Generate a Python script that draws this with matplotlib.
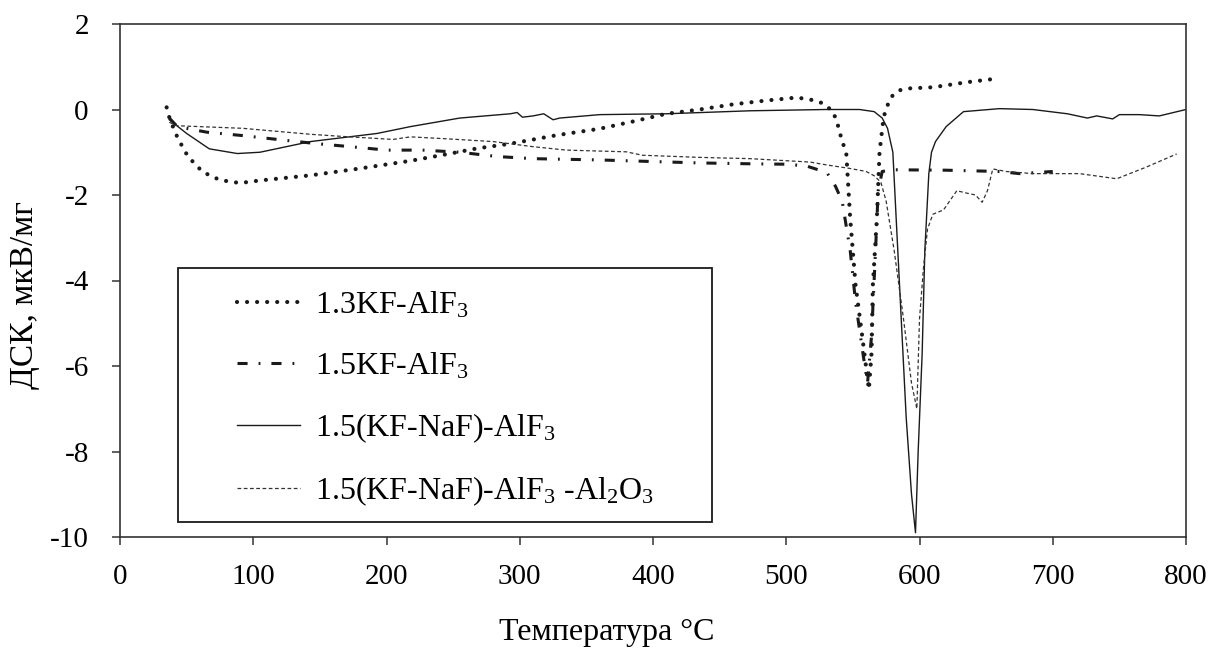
import matplotlib
matplotlib.use("Agg")
import matplotlib.pyplot as plt
from matplotlib.patches import Rectangle

plt.rcParams["font.family"] = ["Liberation Serif", "DejaVu Serif"]
plt.rcParams["mathtext.fontset"] = "custom"
plt.rcParams["mathtext.rm"] = "Liberation Serif"
plt.rcParams["mathtext.it"] = "Liberation Serif:italic"
plt.rcParams["axes.unicode_minus"] = False

# 1.3KF-AlF3 (dotted)
t_13kf = [35, 37.5, 43.5, 51, 62, 75, 90, 105, 143, 180, 218, 248, 268, 293, 328, 360,
          385, 410, 435, 460, 485, 508, 520, 528, 535, 538, 542, 545, 548, 552, 557, 562,
          564, 565, 568, 570, 573, 575, 579, 584, 590, 610, 636, 660]
dsc_13kf = [0.05, -0.24, -0.68, -1.1, -1.46, -1.65, -1.72, -1.66, -1.54, -1.38, -1.2, -1.03,
            -0.91, -0.8, -0.6, -0.45, -0.28, -0.1, 0.0, 0.12, 0.21, 0.28, 0.22, 0.14, -0.05,
            -0.28, -0.75, -1.0, -2.55, -4.1, -5.3, -6.55, -5.7, -4.1, -2.55, -1.0, -0.2, 0.03,
            0.3, 0.44, 0.49, 0.52, 0.64, 0.73]

# 1.5KF-AlF3 (dash-dot)
t_15kf = [37, 43, 65, 92, 118, 148, 173, 200, 227, 255, 283, 310, 360, 435, 473, 500, 515,
          525, 531, 537, 542, 548, 552, 558, 561, 564, 567, 569, 572, 580, 620, 660, 675, 700]
dsc_15kf = [-0.2, -0.4, -0.53, -0.61, -0.7, -0.8, -0.87, -0.95, -0.95, -1.0, -1.1, -1.15,
            -1.18, -1.25, -1.27, -1.28, -1.32, -1.42, -1.5, -1.8, -2.15, -3.3, -4.5, -5.8,
            -6.4, -5.3, -3.3, -1.9, -1.45, -1.41, -1.42, -1.45, -1.5, -1.45]

# 1.5(KF-NaF)-AlF3 (solid)
t_kfnaf = [37, 50, 67, 88, 105, 143, 193, 218, 255, 293, 298, 302, 310, 318, 325, 330, 360,
           410, 473, 530, 555, 566, 572, 576, 580, 585, 590, 594, 597, 599, 602, 604, 607,
           609, 612, 620, 633, 660, 685, 711, 726, 733, 745, 750, 765, 780, 800]
dsc_kfnaf = [-0.24, -0.56, -0.92, -1.03, -1.0, -0.75, -0.56, -0.4, -0.2, -0.1, -0.07, -0.18,
             -0.15, -0.1, -0.24, -0.2, -0.12, -0.1, -0.03, 0.0, 0.0, -0.05, -0.2, -0.44, -1.0,
             -4.1, -7.2, -9.0, -9.9, -8.0, -5.7, -3.3, -1.5, -1.0, -0.75, -0.4, -0.05, 0.02,
             0.0, -0.1, -0.2, -0.15, -0.22, -0.12, -0.12, -0.15, 0.0]

# 1.5(KF-NaF)-AlF3-Al2O3 (fine dashed)
t_al2o3 = [37, 43, 92, 143, 167, 205, 218, 242, 280, 310, 335, 380, 392, 435, 473, 518, 531,
           548, 560, 566, 571, 575, 581, 588, 594, 598, 600, 603, 606, 610, 618, 628, 636, 642,
           647, 651, 655, 665, 685, 720, 748, 770, 793]
dsc_al2o3 = [-0.3, -0.38, -0.44, -0.58, -0.63, -0.7, -0.64, -0.68, -0.75, -0.87, -0.95, -0.99,
             -1.07, -1.12, -1.15, -1.23, -1.3, -1.38, -1.45, -1.55, -1.7, -2.15, -3.3, -4.9,
             -6.4, -7.0, -4.9, -3.7, -2.8, -2.45, -2.35, -1.9, -1.96, -2.0, -2.17, -1.9, -1.39,
             -1.45, -1.5, -1.5, -1.62, -1.35, -1.04]

x_ticks = list(range(0, 801, 100))
y_ticks = list(range(-10, 3, 2))

fig = plt.figure(figsize=(12.1, 6.5), dpi=100)
ax = fig.add_axes([120 / 1210, 1 - 537 / 650, 1066 / 1210, 513 / 650])

ink = "#1a1a1a"
ax.plot(t_13kf, dsc_13kf, color=ink, lw=3.0, linestyle=(0, (0.01, 2.4)),
        dash_capstyle="round", label="1.3KF-AlF$_3$")
ax.plot(t_15kf, dsc_15kf, color=ink, lw=2.2, linestyle=(0, (3.3, 3.6, 0.6, 3.6)),
        label="1.5KF-AlF$_3$")
ax.plot(t_kfnaf, dsc_kfnaf, color=ink, lw=1.0, label="1.5(KF-NaF)-AlF$_3$")
ax.plot(t_al2o3, dsc_al2o3, color="#333333", lw=0.9, linestyle=(0, (3, 2)),
        label="1.5(KF-NaF)-AlF$_3$ -Al$_2$O$_3$")

ax.set_xlim(0, 800)
ax.set_ylim(-10, 2)
ax.set_xticks(x_ticks)
ax.set_yticks(y_ticks)
ax.tick_params(direction="out", length=5.5, width=1.1, colors="#333333", labelsize=21,
               labelcolor="black")
ax.tick_params(axis="x", pad=14)
ax.tick_params(axis="y", pad=17)
for s in ax.spines.values():
    s.set_color("#333333")
    s.set_linewidth(1.2)

ax.set_xlabel("Температура °C", fontsize=23)
ax.xaxis.set_label_coords((607 - 120) / 1066, (537 - 618) / 513)
ax.set_ylabel("ДСК, мкВ/мг", fontsize=24)
ax.yaxis.set_label_coords((40 - 120) / 1066, (537 - 295) / 513)

# legend box
ax.add_patch(Rectangle(((178 - 120) / 1066, (537 - 522) / 513), (712 - 178) / 1066,
                       (522 - 268) / 513, transform=ax.transAxes, fill=False,
                       edgecolor=ink, lw=1.3, zorder=5))
ax.legend(loc="upper left", bbox_to_anchor=((237 - 120) / 1066, (537 - 290) / 513),
          frameon=False, fontsize=23, borderpad=0, borderaxespad=0, handlelength=1.97,
          handletextpad=0.47, labelspacing=0.94)

fig.savefig("out.png", dpi=100, facecolor="white")
